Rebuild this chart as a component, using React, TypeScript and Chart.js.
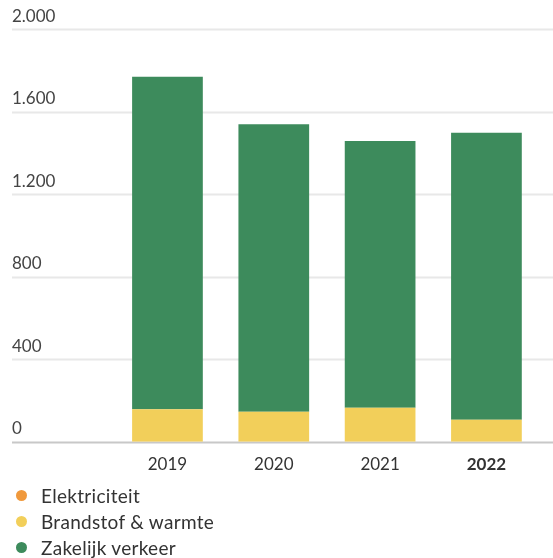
import React, { useEffect, useRef } from "react";
import { Chart, registerables } from "chart.js";

Chart.register(...registerables);

const years = ["2019", "2020", "2021", "2022"];
const elektriciteit = [0, 0, 0, 0];
const brandstof = [157, 145, 165, 107];
const zakelijk = [1613, 1394, 1293, 1391];
const seriesNames = ["Elektriciteit", "Brandstof & warmte", "Zakelijk verkeer"];
const seriesColors = ["#f0993c", "#f2cf5a", "#3d8b5c"];
const yMax = 2000;
const yStep = 400;

const W = 553;
const H = 480;

const fmt = (v: number) => String(v).replace(/\B(?=(\d{3})+(?!\d))/g, ".");

const fullGrid = {
  id: "fullGrid",
  beforeDatasetsDraw(chart: any) {
    const y = chart.scales.y;
    const ctx = chart.ctx;
    ctx.save();
    y.ticks.forEach((t: any) => {
      const py = Math.round(y.getPixelForValue(t.value)) + 0.5;
      ctx.strokeStyle = t.value === 0 ? "#c8c8c8" : "#e8e8e8";
      ctx.lineWidth = 2;
      ctx.beginPath();
      ctx.moveTo(12, py);
      ctx.lineTo(chart.width, py);
      ctx.stroke();
    });
    ctx.restore();
  },
};

export default function App() {
  const ref = useRef<HTMLCanvasElement | null>(null);

  useEffect(() => {
    if (!ref.current) return;
    const chart = new Chart(ref.current, {
      type: "bar",
      data: {
        labels: years,
        datasets: [
          { label: seriesNames[0], data: elektriciteit, backgroundColor: seriesColors[0] },
          { label: seriesNames[1], data: brandstof, backgroundColor: seriesColors[1] },
          { label: seriesNames[2], data: zakelijk, backgroundColor: seriesColors[2] },
        ],
      },
      options: {
        animation: false,
        responsive: false,
        layout: { padding: { left: 12, right: 13.4, top: 29.2, bottom: 0 } },
        datasets: { bar: { categoryPercentage: 1, barPercentage: 0.665 } },
        plugins: { legend: { display: false }, tooltip: { enabled: false } },
        scales: {
          x: {
            stacked: true,
            grid: { display: false, drawTicks: false },
            border: { display: false },
            ticks: {
              padding: 13,
              color: "#333",
              font: (c: any) => ({ family: "Lato", size: 17, weight: c.index === 3 ? "bold" : "normal" }),
            },
            afterFit: (s: any) => { s.height = 38.3; },
          },
          y: {
            stacked: true,
            min: 0,
            max: yMax,
            grid: { display: false, drawTicks: false },
            border: { display: false },
            ticks: {
              stepSize: yStep,
              crossAlign: "far",
              labelOffset: -13,
              padding: 0,
              color: "#444",
              font: { family: "Lato", size: 17 },
              callback: (v: any) => fmt(Number(v)),
            },
            afterFit: (s: any) => { s.width = 102.3; },
          },
        },
      },
      plugins: [fullGrid],
    } as any);
    return () => chart.destroy();
  }, []);

  return (
    <div style={{ position: "fixed", left: 0, top: 0, width: W, height: 558, background: "#fff" }}>
      <canvas ref={ref} width={W} height={H} style={{ width: W, height: H, display: "block" }} />
      <div style={{ position: "absolute", left: 16, top: 482, fontFamily: "Lato", fontSize: 19, color: "#333", letterSpacing: "0.3px" }}>
        {seriesNames.map((n, i) => (
          <div key={n} style={{ display: "flex", alignItems: "center", height: 26 }}>
            <span style={{ width: 11, height: 11, borderRadius: "50%", background: seriesColors[i], display: "inline-block", marginRight: 14 }} />
            <span>{n}</span>
          </div>
        ))}
      </div>
    </div>
  );
}
